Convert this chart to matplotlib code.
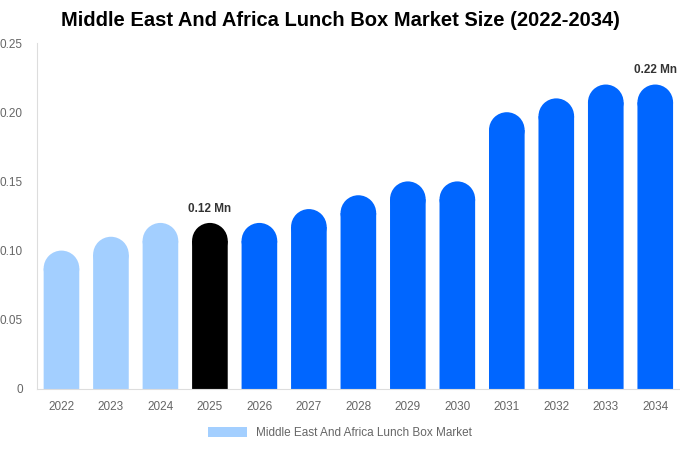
import matplotlib.pyplot as plt
from matplotlib.patches import Ellipse, Patch

plt.rcParams['font.family'] = ['Liberation Sans', 'DejaVu Sans']

years = ['2022', '2023', '2024', '2025', '2026', '2027', '2028',
         '2029', '2030', '2031', '2032', '2033', '2034']
values = [0.10, 0.11, 0.12, 0.12, 0.12, 0.13, 0.14, 0.15, 0.15, 0.20, 0.21, 0.22, 0.22]
colors = ['#a3cfff'] * 3 + ['#000000'] + ['#0066ff'] * 9
labels = {3: '0.12 Mn', 12: '0.22 Mn'}

fig = plt.figure(figsize=(6.8, 4.5), dpi=100)
ax = fig.add_axes([0.054, 0.1356, 0.946, 0.7688])
ax.set_xlim(-0.5, len(years) - 0.5)
ax.set_ylim(0, 0.25)

bw = 0.72
# radius of the rounded top, in data units (x and y scale differ)
ax_w = fig.get_figwidth() * fig.dpi * 0.946
ax_h = fig.get_figheight() * fig.dpi * 0.7688
r_px = bw * ax_w / len(years) / 2
r_y = r_px * 0.25 / ax_h

for i, v in enumerate(values):
    ax.bar(i, v - r_y, width=bw, color=colors[i], linewidth=0, snap=False)
    ax.add_patch(Ellipse((i, v - r_y), bw, 2 * r_y, facecolor=colors[i],
                         edgecolor='none', linewidth=0, snap=False))
    if i in labels:
        ax.text(i, v + 0.006, labels[i], ha='center', va='bottom',
                fontsize=8.5, fontweight='bold', color='#333333')

ax.set_xticks(range(len(years)))
ax.set_xticklabels(years)
ax.set_yticks([0, 0.05, 0.10, 0.15, 0.20, 0.25])
ax.set_yticklabels(['0', '0.05', '0.10', '0.15', '0.20', '0.25'])
ax.tick_params(axis='both', length=0, labelsize=8.5, colors='#666666')
ax.tick_params(axis='x', pad=9)
ax.tick_params(axis='y', pad=10)
for s in ['top', 'right']:
    ax.spines[s].set_visible(False)
for s in ['left', 'bottom']:
    ax.spines[s].set_color('#dddddd')
    ax.spines[s].set_linewidth(0.8)

fig.suptitle('Middle East And Africa Lunch Box Market Size (2022-2034)',
             x=0.5, y=0.975, fontsize=14.5, fontweight='bold')

handle = Patch(facecolor='#a3cfff', edgecolor='none')
fig.legend([handle], ['Middle East And Africa Lunch Box Market'], loc='center',
           bbox_to_anchor=(0.5, 0.038), frameon=False, fontsize=8.5,
           labelcolor='#666666', handlelength=3.3, handleheight=1.0)

fig.savefig('out.png', dpi=100)
